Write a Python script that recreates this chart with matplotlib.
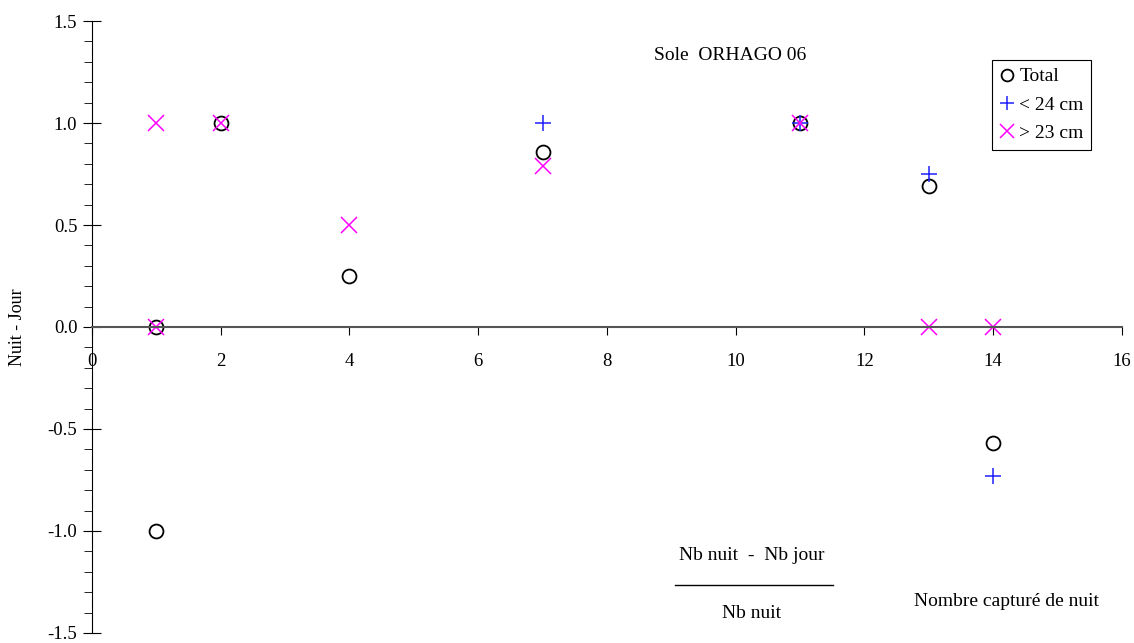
import matplotlib.pyplot as plt
from matplotlib.ticker import MultipleLocator, FormatStrFormatter

plt.rcParams['font.family'] = ['Liberation Serif', 'DejaVu Serif']

# Total
x_total = [1, 1, 2, 4, 7, 11, 13, 14]
y_total = [0.0, -1.0, 1.0, 0.25, 0.857, 1.0, 0.69, -0.57]
# < 24 cm
x_small = [7, 11, 13, 14]
y_small = [1.0, 1.0, 0.75, -0.73]
# > 23 cm
x_big = [1, 1, 2, 4, 7, 11, 13, 14]
y_big = [1.0, 0.0, 1.0, 0.5, 0.79, 1.0, 0.0, 0.0]

fig = plt.figure(figsize=(11.34, 6.43), dpi=100)
ax = fig.add_axes([0.0811, 0.0156, 0.9083, 0.9517])

ax.plot(x_total, y_total, 'o', ls='none', mfc='none', mec='black', ms=10, mew=1.3, label='Total')
ax.plot(x_small, y_small, '+', ls='none', color='#2020ff', ms=12, mew=1.1, label='< 24 cm')
ax.plot(x_big, y_big, 'x', ls='none', color='#ff00ff', ms=12, mew=1.1, label='> 23 cm')

ax.set_xlim(0, 16)
ax.set_ylim(-1.5, 1.5)
ax.spines['top'].set_visible(False)
ax.spines['right'].set_visible(False)
ax.spines['bottom'].set_position(('data', 0))
ax.spines['bottom'].set_color('#555555')
ax.spines['bottom'].set_linewidth(1.5)

ax.xaxis.set_major_locator(MultipleLocator(2))
ax.yaxis.set_major_locator(MultipleLocator(0.5))
ax.yaxis.set_minor_locator(MultipleLocator(0.1))
ax.yaxis.set_major_formatter(FormatStrFormatter('%.1f'))
ax.tick_params(axis='x', direction='out', length=6, pad=13, labelsize=13.5)
ax.tick_params(axis='y', which='major', direction='inout', length=13, labelsize=13.5, pad=4)
ax.tick_params(axis='y', which='minor', direction='out', length=6)

ax.set_ylabel('Nuit - Jour', fontsize=13)
ax.yaxis.set_label_coords(-0.064, 0.5)

fig.text(730 / 1134, 1 - 55 / 643, 'Sole  ORHAGO 06', fontsize=14, ha='center', va='center')
fig.text(752 / 1134, 1 - 556 / 643, 'Nb nuit  -  Nb jour', fontsize=14, ha='center', va='center')
fig.add_artist(plt.Line2D([675 / 1134, 833 / 1134], [1 - 585 / 643, 1 - 585 / 643], color='black', lw=1))
fig.text(752 / 1134, 1 - 613 / 643, 'Nb nuit', fontsize=14, ha='center', va='center')
fig.text(1007 / 1134, 1 - 602 / 643, 'Nombre capturé de nuit', fontsize=14, ha='center', va='center')

leg = ax.legend(loc='upper left', bbox_to_anchor=(992 / 1134, 1 - 60 / 643), bbox_transform=fig.transFigure,
                fontsize=14, handlelength=0.7, handletextpad=0.3, borderpad=0.4, labelspacing=0.55,
                markerscale=0.85, fancybox=False, shadow=False, edgecolor='black', framealpha=1,
                borderaxespad=0)
leg.get_frame().set_linewidth(0.8)

fig.savefig('out.png', dpi=100)
